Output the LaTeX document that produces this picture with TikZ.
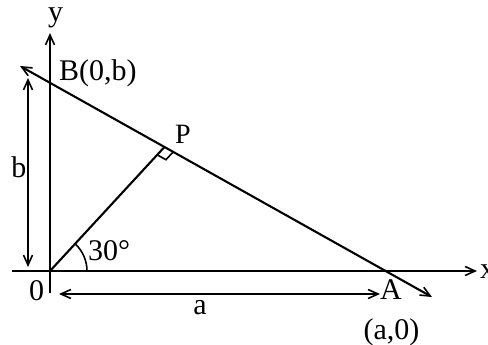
\documentclass[tikz,border=0pt]{standalone}
\usepackage{fontspec}
\setmainfont{Liberation Serif}
\usetikzlibrary{arrows.meta,calc}
\begin{document}
\begin{tikzpicture}[x=1pt,y=-1pt,
  ln/.style={line width=2.1pt},
  tip/.style={-{Straight Barb[length=10pt,width=9pt,line width=1.6pt]}},
  tips/.style={{Straight Barb[length=10pt,width=9pt,line width=1.6pt]}-{Straight Barb[length=10pt,width=9pt,line width=1.6pt]}},
  lbl/.style={font=\fontsize{30}{30}\selectfont, inner sep=0pt, anchor=base}]
\useasboundingbox (0,0) rectangle (488,345);
% key points
\coordinate (O) at (50,271);
\coordinate (ybot) at (50,293);
\coordinate (ytop) at (50,33);
\coordinate (xl) at (12,271);
\coordinate (xr) at (477,271);
\coordinate (Bend) at (20,66);
\coordinate (Aend) at (432,297);
\coordinate (P) at (164,147.5);
\coordinate (b1) at (28,78);
\coordinate (b2) at (28,267);
\coordinate (a1) at (59,294);
\coordinate (a2) at (380,294);
\coordinate (r1) at ($(P)!10pt!(O)$);
\coordinate (r3) at ($(P)!10pt!(Aend)$);
\coordinate (r2) at ($(r1)+(r3)-(P)$);
% axes
\draw[ln,tip] (ybot) -- (ytop);
\draw[ln,tip] (xl) -- (xr);
% line AB
\draw[ln,tips] (Aend) -- (Bend);
% OP
\draw[ln] (O) -- (P);
% right angle mark
\draw[line width=1.6pt] (r1) -- (r2) -- (r3);
% angle arc
\draw[line width=1.6pt] ($(O)+(37,0)$) arc[start angle=0,end angle=-46,radius=37];
% dimension arrows
\draw[ln,tips] (b1) -- (b2);
\draw[ln,tips] (a1) -- (a2);
% labels
\node[lbl] (ylab) at (55.5,22) {y};
\node[lbl,anchor=base west] (Blab) at (59,81) {B(0,b)};
\node[lbl,anchor=base west,font=\fontsize{28}{28}\selectfont] (Plab) at (175,143) {P};
\node[lbl] (blab) at (19,178) {b};
\node[lbl,anchor=base west] (anglab) at (88,260) {30°};
\node[lbl] (Olab) at (36.5,300) {0};
\node[lbl] (alab) at (200,314) {a};
\node[lbl] (Alab) at (391,299) {A};
\node[lbl] (A0lab) at (391.5,339) {(a,0)};
\node[lbl,anchor=base west] (xlab) at (480,278) {x};
\end{tikzpicture}
\end{document}
